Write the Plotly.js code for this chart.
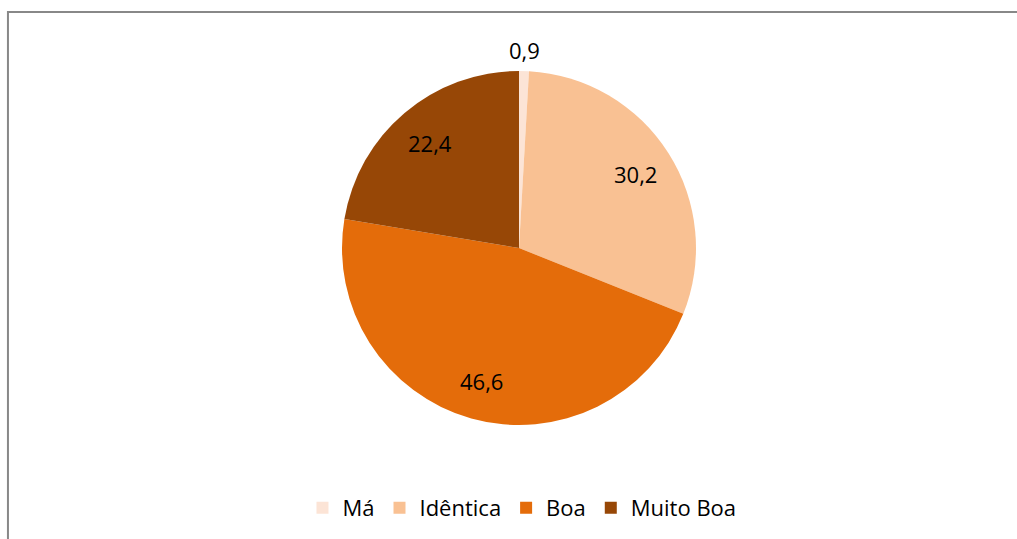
<!DOCTYPE html>
<html>
<head>
<meta charset="utf-8">
<script src="https://cdn.plot.ly/plotly-3.0.1.min.js"></script>
<style>html,body{margin:0;padding:0;background:#fff;}#chart{width:1017px;height:539px;}</style>
</head>
<body>
<div id="chart"></div>
<script>
const categories = ['Má', 'Idêntica', 'Boa', 'Muito Boa'];
const values = [0.9, 30.2, 46.6, 22.4];
const colors = ['#FCE4D6', '#F9C193', '#E46C0A', '#974706'];
const labelRadius = [1.12, 0.78, 0.78, 0.78];

const FONT = 'Open Sans, sans-serif';
const W = 1017, H = 539;
const margin = {l: 21, r: 0, t: 71, b: 114};
const plotW = W - margin.l - margin.r, plotH = H - margin.t - margin.b;
const R = Math.min(plotW, plotH) / 2;

const trace = {
  type: 'pie',
  labels: categories,
  values: values,
  sort: false,
  direction: 'clockwise',
  rotation: 0,
  marker: {colors: colors, line: {width: 0}},
  textinfo: 'none',
  hoverinfo: 'label+value',
  showlegend: true
};

// value labels placed around the pie from the data's own angles
const total = values.reduce((a, b) => a + b, 0);
let cum = 0;
const annotations = values.map((v, i) => {
  const mid = (cum + v / 2) / total * 2 * Math.PI;
  cum += v;
  const d = labelRadius[i] * R;
  return {
    xref: 'paper', yref: 'paper',
    x: 0.5 + d * Math.sin(mid) / plotW,
    y: 0.5 + d * Math.cos(mid) / plotH,
    text: v.toFixed(1).replace('.', ','),
    showarrow: false,
    xanchor: 'center', yanchor: 'middle',
    font: {family: FONT, size: 22, color: '#000'}
  };
});

const layout = {
  width: W,
  height: H,
  separators: ',.',
  margin: margin,
  paper_bgcolor: '#fff',
  font: {family: FONT, size: 22, color: '#000'},
  showlegend: true,
  legend: {
    orientation: 'h',
    x: 0.503, xanchor: 'center',
    y: -0.234, yanchor: 'middle',
    font: {family: FONT, size: 22, color: '#000'},
    itemwidth: 30,
    traceorder: 'normal'
  },
  annotations: annotations,
  shapes: [{
    type: 'path',
    xref: 'paper', yref: 'paper',
    path: 'M -0.0131,-0.5 L -0.0131,1.1667 L 1.1,1.1667',
    line: {color: '#888888', width: 2}
  }]
};

Plotly.newPlot('chart', [trace], layout, {displayModeBar: false, staticPlot: true});
</script>
</body>
</html>
